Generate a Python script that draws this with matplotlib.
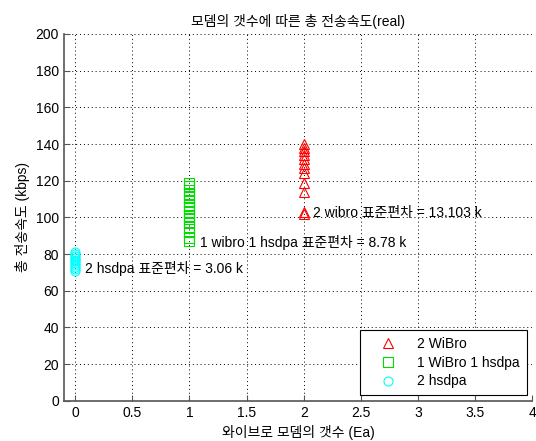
import matplotlib
matplotlib.use("Agg")
import matplotlib.pyplot as plt

plt.rcParams['font.family'] = ['Liberation Sans', 'Noto Sans CJK KR', 'DejaVu Sans']
plt.rcParams['font.size'] = 10
plt.rcParams['axes.unicode_minus'] = False

# data
wibro2_x = 2
wibro2 = [140, 138, 136, 134, 132, 129, 127, 124, 119, 114, 103, 102]
mixed_x = 1
mixed = [119, 117, 115, 113, 111, 109, 107, 105, 103, 101, 99, 97, 95, 92, 89, 87]
hsdpa2_x = 0
hsdpa2 = [81, 80, 79, 78, 77, 76, 75, 74, 73, 72, 71]

series_labels = ['2 WiBro', '1 WiBro 1 hsdpa', '2 hsdpa']
notes = ['2 wibro 표준편차 = 13.103 k',
         '1 wibro 1 hsdpa 표준편차 = 8.78 k',
         '2 hsdpa 표준편차 = 3.06 k']
note_pos = [(2.08, 102.5), (1.09, 86.5), (0.09, 72)]

fig = plt.figure(figsize=(5.36, 4.41), dpi=100)
ax = fig.add_axes([0.119, 0.091, 0.874, 0.832])

ax.plot([wibro2_x] * len(wibro2), wibro2, '^', color='red', mfc='none',
        ms=6.5, mew=0.8, ls='none', label=series_labels[0])
ax.plot([mixed_x] * len(mixed), mixed, 's', color='#00dd00', mfc='none',
        ms=6.5, mew=0.8, ls='none', label=series_labels[1])
ax.plot([hsdpa2_x] * len(hsdpa2), hsdpa2, 'o', color='cyan', mfc='none',
        ms=6.5, mew=0.8, ls='none', label=series_labels[2])

for txt, (x, y) in zip(notes, note_pos):
    ax.text(x, y, txt, fontsize=10, va='center', ha='left')

ax.set_xlim(-0.1, 4)
ax.set_ylim(0, 200)
ax.set_xticks([0, 0.5, 1, 1.5, 2, 2.5, 3, 3.5, 4])
ax.set_xticklabels(['0', '0.5', '1', '1.5', '2', '2.5', '3', '3.5', '4'])
ax.set_yticks(range(0, 201, 20))
ax.grid(True, color='black', linestyle=(0, (1, 3)), linewidth=0.7)
ax.tick_params(direction='in', length=4, top=False, right=False, color='#555555')
ax.spines['top'].set_visible(False)
ax.spines['right'].set_visible(False)
for s in ('left', 'bottom'):
    ax.spines[s].set_color('#555555')
    ax.spines[s].set_linewidth(1.2)

ax.set_title('모뎀의 갯수에 따른 총 전송속도(real)', fontsize=10)
ax.set_xlabel('와이브로 모뎀의 갯수 (Ea)', fontsize=10)
ax.set_ylabel('총 전송속도 (kbps)', fontsize=10)

leg = ax.legend(loc='lower right', fancybox=False, edgecolor='black',
                framealpha=1, borderaxespad=0.4, handlelength=3.0,
                handletextpad=0.6, labelspacing=0.35, borderpad=0.5, fontsize=10)
leg.get_frame().set_linewidth(0.8)

fig.savefig('out.png', dpi=100)
